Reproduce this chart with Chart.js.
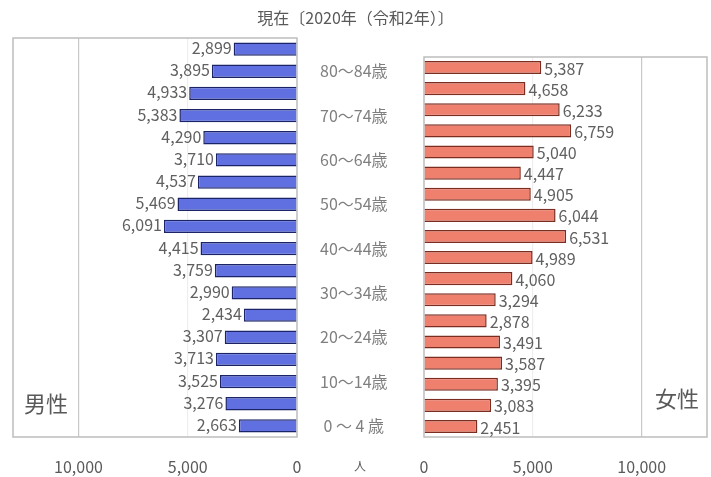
<!DOCTYPE html>
<html>
<head>
<meta charset="utf-8">
<script src="https://cdn.jsdelivr.net/npm/chart.js@4"></script>
<style>
  body { margin: 0; background: #fff; font-family: "Noto Sans CJK JP", "Noto Sans", sans-serif; }
  #wrap { position: relative; width: 711px; height: 477px; overflow: hidden; }
  canvas { position: absolute; top: 0; }
  .txt { position: absolute; color: #595959; white-space: nowrap; line-height: 1.2; }
</style>
</head>
<body>
<div id="wrap">
  <canvas id="maleCanvas" width="420" height="477" style="left:0"></canvas>
  <canvas id="femaleCanvas" width="321" height="477" style="left:390px"></canvas>
  <div class="txt" style="left:0;width:711px;text-align:center;top:8px;font-size:16px">現在〔2020年（令和2年）〕</div>
  <div class="txt" style="left:24px;top:389px;font-size:22px">男性</div>
  <div class="txt" style="left:655px;top:384px;font-size:22px">女性</div>
  <div class="txt" style="left:354px;top:459px;font-size:12px">人</div>
</div>
<script>
// age groups, youngest first (drawn bottom to top)
const ageLabels = ['0 ～ 4 歳', '5 ～ 9 歳', '10～14歳', '15～19歳', '20～24歳', '25～29歳',
  '30～34歳', '35～39歳', '40～44歳', '45～49歳', '50～54歳', '55～59歳',
  '60～64歳', '65～69歳', '70～74歳', '75～79歳', '80～84歳', '85歳以上'];
const maleValues = [2663, 3276, 3525, 3713, 3307, 2434, 2990, 3759, 4415,
  6091, 5469, 4537, 3710, 4290, 5383, 4933, 3895, 2899];
const femaleValues = [2451, 3083, 3395, 3587, 3491, 2878, 3294, 4060, 4989,
  6531, 6044, 4905, 4447, 5040, 6759, 6233, 4658, 5387];
const xTicks = [0, 5000, 10000];
const xMax = 13000;

const fmt = v => Number(v).toLocaleString('en-US');

// grey frame round the plot area
const frame = {
  id: 'frame',
  beforeDatasetsDraw(chart) {
    const a = chart.chartArea, c = chart.ctx;
    c.save();
    c.strokeStyle = '#bdbdbd';
    c.lineWidth = 1.5;
    c.strokeRect(a.left, a.top, a.right - a.left, a.bottom - a.top);
    c.restore();
  }
};

// value next to the end of each bar
const valueLabels = {
  id: 'valueLabels',
  afterDatasetsDraw(chart, args, opts) {
    const c = chart.ctx;
    const meta = chart.getDatasetMeta(0);
    const vals = chart.data.datasets[0].data;
    c.save();
    c.font = '16px "Noto Sans CJK JP", "Noto Sans", sans-serif';
    c.fillStyle = '#606060';
    c.textBaseline = 'middle';
    meta.data.forEach((bar, i) => {
      if (opts.side === 'left') {
        c.textAlign = 'right';
        c.fillText(fmt(vals[i]), bar.x - 2, bar.y - 1);
      } else {
        c.textAlign = 'left';
        c.fillText(fmt(vals[i]), bar.x + 3, bar.y + 1);
      }
    });
    c.restore();
  }
};

const gridColor = ctx => {
  const v = ctx.tick && ctx.tick.value;
  if (v === 10000) return '#c8c8c8';
  if (v === 5000) return '#eeeeee';
  return 'rgba(0,0,0,0)';
};

function xScale(reverse) {
  return {
    reverse: reverse,
    min: 0,
    max: xMax,
    afterBuildTicks: s => { s.ticks = xTicks.map(v => ({ value: v })); },
    afterFit: s => { s.height = 39; },
    grid: { drawTicks: false, color: gridColor, lineWidth: 1.2 },
    border: { display: false },
    ticks: { padding: 20, color: '#595959', font: { size: 16 }, callback: v => fmt(v) }
  };
}

Chart.defaults.font.family = '"Noto Sans CJK JP", "Noto Sans", sans-serif';

new Chart(document.getElementById('maleCanvas'), {
  type: 'bar',
  data: {
    labels: ageLabels,
    datasets: [{
      label: '男性',
      data: maleValues,
      backgroundColor: '#6070e0',
      borderColor: '#1c2468',
      borderWidth: 1.5,
      barPercentage: 0.6,
      categoryPercentage: 1
    }]
  },
  options: {
    indexAxis: 'y',
    responsive: false,
    animation: false,
    layout: { padding: { left: 13, right: 7, top: 38, bottom: 1 } },
    plugins: { legend: { display: false }, tooltip: { enabled: false }, valueLabels: { side: 'left' } },
    scales: {
      x: xScale(true),
      y: {
        position: 'right',
        reverse: true,
        grid: { display: false, drawTicks: false },
        border: { display: false },
        afterFit: s => { s.width = 116; },
        ticks: {
          autoSkip: false,
          crossAlign: 'center',
          padding: 23,
          color: '#7f7f7f',
          font: { size: 16 },
          callback: (v, i) => (i % 2 === 0 ? ageLabels[i] : '')
        }
      }
    }
  },
  plugins: [frame, valueLabels]
});

new Chart(document.getElementById('femaleCanvas'), {
  type: 'bar',
  data: {
    labels: ageLabels,
    datasets: [{
      label: '女性',
      data: femaleValues,
      backgroundColor: '#f0806e',
      borderColor: '#7b2d22',
      borderWidth: 1.5,
      barPercentage: 0.62,
      categoryPercentage: 1
    }]
  },
  options: {
    indexAxis: 'y',
    responsive: false,
    animation: false,
    layout: { padding: { left: 34, right: 4, top: 57, bottom: 1 } },
    plugins: { legend: { display: false }, tooltip: { enabled: false }, valueLabels: { side: 'right' } },
    scales: {
      x: xScale(false),
      y: { display: false, reverse: true }
    }
  },
  plugins: [frame, valueLabels]
});
</script>
</body>
</html>
